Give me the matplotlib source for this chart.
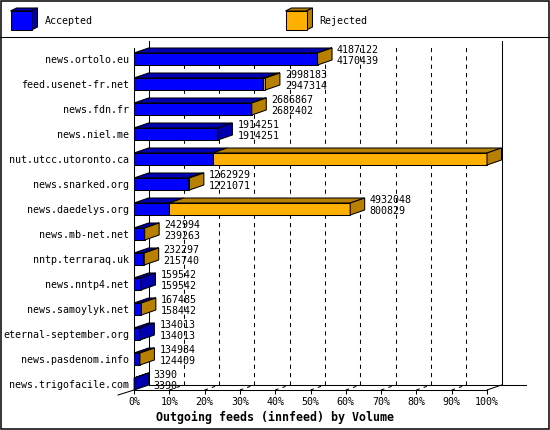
import numpy as np
import matplotlib
matplotlib.use('Agg')
import matplotlib.pyplot as plt
from matplotlib.patches import Polygon, Rectangle

hosts = ['news.ortolo.eu', 'feed.usenet-fr.net', 'news.fdn.fr', 'news.niel.me',
         'nut.utcc.utoronto.ca', 'news.snarked.org', 'news.daedelys.org',
         'news.mb-net.net', 'nntp.terraraq.uk', 'news.nntp4.net',
         'news.samoylyk.net', 'eternal-september.org', 'news.pasdenom.info',
         'news.trigofacile.com']
offered = np.array([4187122, 2998183, 2686867, 1914251, 8053137, 1262929, 4932048,
                    242994, 232297, 159542, 167485, 134013, 134984, 3390])
accepted = np.array([4170439, 2947314, 2682402, 1914251, 1794006, 1221071, 800829,
                     239263, 215740, 159542, 158442, 134013, 124409, 3390])
rejected = offered - accepted
pct_ticks = list(range(0, 101, 10))

plt.rcParams['font.family'] = 'DejaVu Sans Mono'
plt.rcParams['font.size'] = 7.2
plt.rcParams['lines.scale_dashes'] = False

BLUE, BLUE_DARK = '#0000ff', '#0000b0'
GOLD, GOLD_DARK = '#ffb000', '#b88000'
LW = 0.75

W, H = 550, 430
fig = plt.figure(figsize=(W / 100, H / 100), dpi=100)

# pixel-space layer: frame, separator, legend
bg = fig.add_axes([0, 0, 1, 1])
bg.set_xlim(0, W)
bg.set_ylim(H, 0)
bg.axis('off')
bg.add_patch(Rectangle((0.5, 0.5), W - 1.5, H - 1.5, fill=False, ec='black', lw=1.1))
bg.plot([0, W], [37, 37], color='black', lw=LW)


def cube(x, y, w, h, ddx, ddy, face, dark):
    bg.add_patch(Polygon([(x, y), (x + ddx, y - ddy), (x + w + ddx, y - ddy), (x + w, y)],
                         fc=dark, ec='black', lw=LW))
    bg.add_patch(Polygon([(x + w, y), (x + w + ddx, y - ddy), (x + w + ddx, y + h - ddy), (x + w, y + h)],
                         fc=dark, ec='black', lw=LW))
    bg.add_patch(Rectangle((x, y), w, h, fc=face, ec='black', lw=LW))


cube(10.5, 11, 21, 19, 6, 3, BLUE, BLUE_DARK)
bg.text(44.5, 21, 'Accepted', va='center', ha='left')
cube(285.5, 11, 21, 19, 6, 3, GOLD, GOLD_DARK)
bg.text(319, 21, 'Rejected', va='center', ha='left')

# main plot: front plane of the pseudo-3d chart
left, right, top, bottom = 134, 487, 45, 390
row_px, first_row = 25, 59
ax = fig.add_axes([left / W, 1 - bottom / H, (right - left) / W, (bottom - top) / H])
xmax = offered.max()
y_top = (top - first_row) / row_px
y_bot = (bottom - first_row) / row_px
ax.set_xlim(0, xmax)
ax.set_ylim(y_bot, y_top)
ax.patch.set_visible(False)
for s in ax.spines.values():
    s.set_visible(False)

dx = 14.5 * xmax / (right - left)   # depth, x
dy = 5 / row_px                      # depth, y
bar_h = 12 / row_px
y_back = y_bot - dy
y_wall = (41 - first_row) / row_px

ticks = [p / 100 * xmax for p in pct_ticks]

# walls and floor
for t in ticks[1:-1]:
    ax.plot([t + dx, t + dx], [y_back, (46 - first_row) / row_px], color='black', lw=LW,
            dashes=(3, 3), clip_on=False, zorder=1)
    ax.plot([t, t + dx], [y_bot, y_back], color='black', lw=LW, dashes=(2.5, 3),
            clip_on=False, zorder=1)
ax.plot([dx, dx], [y_back, y_wall], color='black', lw=LW, clip_on=False)
ax.plot([xmax + dx, xmax + dx], [y_back, y_wall], color='black', lw=LW, clip_on=False)
ax.plot([dx, xmax * 1.11], [y_back, y_back], color='black', lw=LW, clip_on=False, zorder=1)
ax.plot([0, 0], [y_bot, (48 - first_row) / row_px], color='black', lw=LW, clip_on=False)
ax.plot([0, xmax], [y_bot, y_bot], color='black', lw=LW, clip_on=False)
ax.plot([xmax, xmax + dx], [y_bot, y_back], color='black', lw=LW, clip_on=False)
ax.plot([-dx * 1.1, 0], [y_bot + dy, y_bot], color='black', lw=LW, clip_on=False)


def slab(x0, x1, yc, face, dark, side):
    yt, yb = yc - bar_h / 2, yc + bar_h / 2
    ax.add_patch(Polygon([(x0, yt), (x0 + dx, yt - dy), (x1 + dx, yt - dy), (x1, yt)],
                         fc=dark, ec='black', lw=LW, clip_on=False, zorder=3))
    ax.add_patch(Rectangle((x0, yt), x1 - x0, bar_h, fc=face, ec='black', lw=LW,
                           clip_on=False, zorder=3))
    if side:
        ax.add_patch(Polygon([(x1, yt), (x1 + dx, yt - dy), (x1 + dx, yb - dy), (x1, yb)],
                             fc=dark, ec='black', lw=LW, clip_on=False, zorder=3))


for i in range(len(hosts)):
    slab(0, accepted[i], i, BLUE, BLUE_DARK, rejected[i] == 0)
    if rejected[i] > 0:
        slab(accepted[i], offered[i], i, GOLD, GOLD_DARK, True)
    ax.annotate(str(offered[i]), xy=(offered[i] + dx, i), xytext=(3.6, 6.5),
                textcoords='offset points', va='center', ha='left', zorder=4)
    ax.annotate(str(accepted[i]), xy=(offered[i] + dx, i), xytext=(3.6, -1.1),
                textcoords='offset points', va='center', ha='left', zorder=4)

ax.set_xticks(ticks, labels=[f'{p}%' for p in pct_ticks])
ax.set_yticks(range(len(hosts)), labels=hosts)
ax.tick_params(axis='x', direction='out', length=3.2, width=LW, pad=2)
ax.tick_params(axis='y', length=0, pad=3.6)

fig.text(0.5, 1 - 417 / H, 'Outgoing feeds (innfeed) by Volume', ha='center', va='center',
         weight='bold', size=8.4)

fig.savefig('out.png', dpi=100)
